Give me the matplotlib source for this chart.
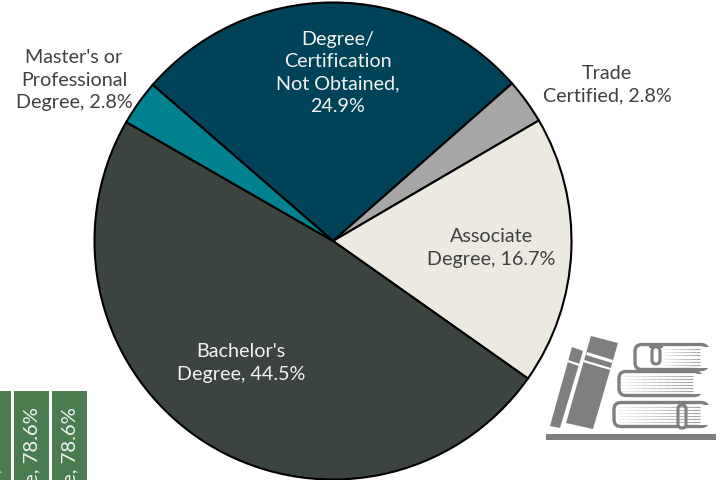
import matplotlib
matplotlib.use('Agg')
import matplotlib.pyplot as plt
from matplotlib.patches import Rectangle, FancyBboxPatch, Polygon

plt.rcParams['font.family'] = ['Lato', 'DejaVu Sans']

# pie slices, clockwise from the top left edge of the big slice
slices = [24.9, 2.8, 16.7, 44.5, 2.8]
slice_names = ['Degree/\nCertification\nNot Obtained,\n24.9%', 'Trade\nCertified, 2.8%',
               'Associate\nDegree, 16.7%', "Bachelor's\nDegree, 44.5%",
               "Master's or\nProfessional\nDegree, 2.8%"]
slice_colors = ['#004257', '#a6a6a6', '#eceae0', '#3b443f', '#00818f']
label_spots = [(338, 73), (607, 85), (491, 248), (241, 363), (74, 80)]
label_colors = ['#f2f2f2', '#404040', '#404040', '#f2f2f2', '#404040']

# the cut off bars in the lower left corner
bar_values = [78.6, 78.6, 78.6]
bar_labels = ['e, 78.6%', 'e, 78.6%', 'e, 78.6%']
bar_left = [-24, 14, 52]
bar_width = 34.5

W, H = 721, 481
fig = plt.figure(figsize=(W / 100, H / 100), dpi=100)

# pie
cx, cy, r = 333, 242, 238.5
ax = fig.add_axes([(cx - r) / W, 1 - (cy + r) / H, 2 * r / W, 2 * r / H])
wedges, _ = ax.pie(slices, colors=slice_colors, startangle=139.1, counterclock=False, radius=1,
                   wedgeprops=dict(edgecolor='black', linewidth=1.5))
ax.set_xlim(-1, 1)
ax.set_ylim(-1, 1)
for w in wedges:
    w.set_clip_on(False)

# green bars
bars = fig.add_axes([0, 0, 100 / W, 89 / H])
bars.set_xlim(0, 100)
bars.set_ylim(0, 89)
bars.axis('off')
for left, val, lab in zip(bar_left, bar_values, bar_labels):
    bars.bar(left, 89, width=bar_width, align='edge', color='#4a7c4f')
    bars.text(left + bar_width / 2 + 1, 74, lab, rotation=90, ha='center', va='top', color='#f2f2f2',
              fontsize=14.6, clip_on=True)

top = fig.add_axes([0, 0, 1, 1])
top.set_xlim(0, W)
top.set_ylim(H, 0)
top.axis('off')
top.patch.set_alpha(0)
for (x, y), name, col in zip(label_spots, slice_names, label_colors):
    top.text(x, y, name, ha='center', va='center', color=col, fontsize=14.2, linespacing=1.38)

# book icon
grey = '#7f7f7f'
top.add_patch(Rectangle((546, 435), 170, 6, color=grey, lw=0))
top.add_patch(Polygon([(591, 337), (618, 344), (593, 430), (566, 424)], color=grey, lw=0))
top.add_patch(Polygon([(572, 348), (583, 352), (560, 429), (550, 427)], color=grey, lw=0))
for pts in ([(587, 353), (613, 361), (612, 364), (586, 356)], [(584, 361), (611, 369), (610, 371), (583, 363)],
            [(568, 361), (580, 365), (579, 367), (567, 363)]):
    top.add_patch(Polygon(pts, color='white', lw=0))


def book(x0, x1, y0, y1, x_mid):
    # cover: rounded left side, bars running out to the right
    top.add_patch(FancyBboxPatch((x0 + 8, y0 + 1.5), x1 - x0, y1 - y0 - 3, boxstyle='round,pad=0,rounding_size=7',
                                 fc='white', ec=grey, lw=2.4))
    top.add_patch(Rectangle((x1 - 2, y0 + 3.5), 14, y1 - y0 - 7, color='white', lw=0))
    # pages, fading out to the left
    for k in range(1, 7):
        yy = y0 + 3 + k * (y1 - y0 - 6) / 7
        for s in range(10):
            a = x_mid + (x1 - x_mid) * s / 10
            b = x_mid + (x1 - x_mid) * (s + 1) / 10
            top.plot([a, b], [yy, yy], color=grey, lw=0.8, alpha=0.1 + 0.07 * s, solid_capstyle='butt')


book(627, 700, 344, 372, 662)
book(611, 693, 371, 398, 620)
book(606, 700, 402, 429, 618)
top.add_patch(Rectangle((649, 344), 14, 5, color=grey, lw=0))
top.add_patch(FancyBboxPatch((652, 348), 8, 17, boxstyle='round,pad=0,rounding_size=4', fc='white', ec=grey, lw=2.2))
top.add_patch(FancyBboxPatch((678, 406), 8, 23, boxstyle='round,pad=0,rounding_size=4', fc='white', ec=grey, lw=2.2))

fig.savefig('out.png', dpi=100)
